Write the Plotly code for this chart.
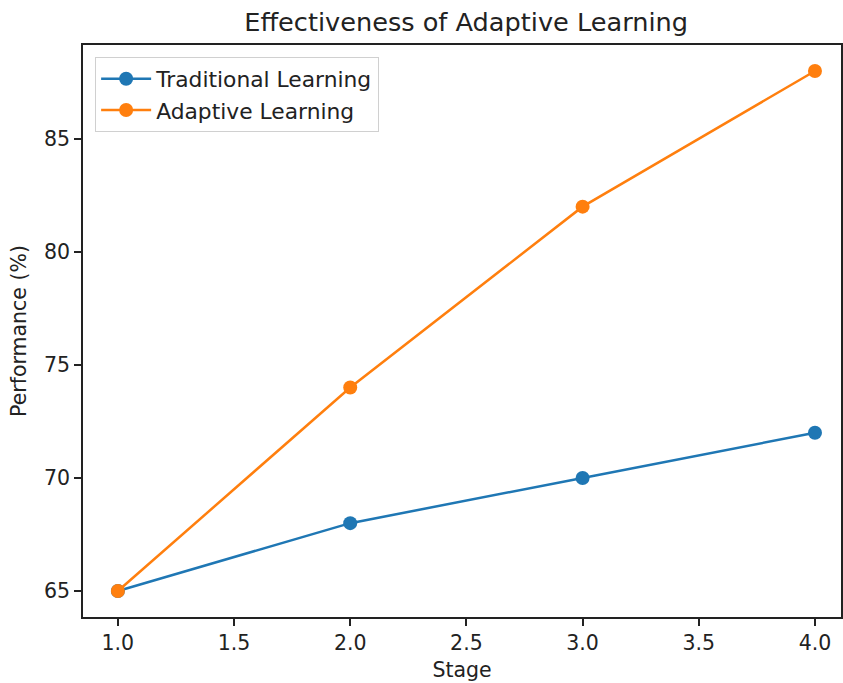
import plotly.graph_objects as go

stages = [1, 2, 3, 4]
traditional = [65, 68, 70, 72]
adaptive = [65, 74, 82, 88]
x_ticks = [1.0, 1.5, 2.0, 2.5, 3.0, 3.5, 4.0]
y_ticks = [65, 70, 75, 80, 85]

fig = go.Figure()
fig.add_trace(go.Scatter(x=stages, y=traditional, mode="lines+markers", name="Traditional Learning",
                         line=dict(color="#1f77b4", width=2.5), marker=dict(size=14, color="#1f77b4")))
fig.add_trace(go.Scatter(x=stages, y=adaptive, mode="lines+markers", name="Adaptive Learning",
                         line=dict(color="#ff7f0e", width=2.5), marker=dict(size=14, color="#ff7f0e")))

axis_common = dict(showgrid=False, zeroline=False, showline=True, linecolor="#222", linewidth=1.5,
                   mirror=True, ticks="outside", ticklen=7, tickwidth=1.5, tickcolor="#222",
                   tickfont=dict(size=20.5, color="#222"))
fig.update_xaxes(range=[0.85, 4.112], tickvals=x_ticks, tickformat=".1f",
                 title=dict(text="Stage", font=dict(size=20.5, color="#222"), standoff=8), **axis_common)
fig.update_yaxes(range=[63.85, 89.15], tickvals=y_ticks,
                 title=dict(text="Performance (%)", font=dict(size=20.5, color="#222"), standoff=12), **axis_common)

fig.update_layout(
    width=843, height=683,
    margin=dict(l=83, r=0, t=45, b=66),
    paper_bgcolor="white", plot_bgcolor="white",
    font=dict(family="DejaVu Sans", color="#222"),
    title=dict(text="Effectiveness of Adaptive Learning", x=0.553, xanchor="center", y=0.968, yanchor="middle",
               font=dict(size=25.6, color="#222")),
    legend=dict(x=0.016, y=0.979, xanchor="left", yanchor="top", bgcolor="rgba(255,255,255,0.8)",
                bordercolor="#d0d0d0", borderwidth=1, font=dict(size=21.8, color="#222"),
                itemwidth=50),
)

fig.write_html("out.html", config={"displayModeBar": False},
               post_script="document.body.style.margin='0';document.body.style.overflow='hidden';")
